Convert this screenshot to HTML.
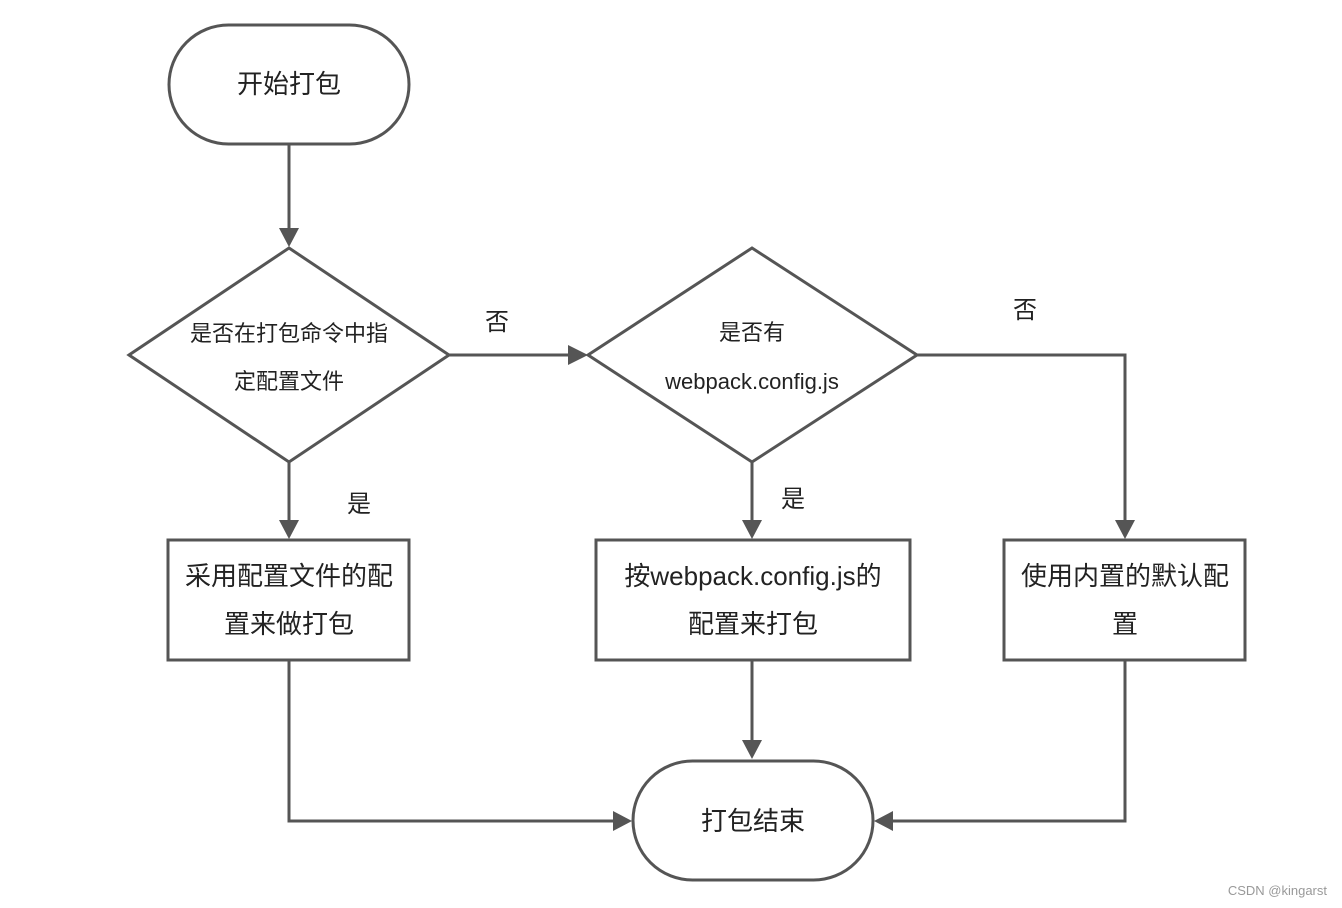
<!DOCTYPE html>
<html><head><meta charset="utf-8"><style>
html,body{margin:0;padding:0;background:#fff;}
svg{display:block;}
text{font-family:"Liberation Sans","Noto Sans CJK SC",sans-serif;fill:#222;}
</style></head><body>
<svg width="1342" height="908" viewBox="0 0 1342 908" xmlns="http://www.w3.org/2000/svg">
<defs>
<marker id="a" markerWidth="10" markerHeight="10" refX="9" refY="5" orient="auto" markerUnits="userSpaceOnUse" viewBox="0 0 10 10">
</marker>
</defs>
<g fill="none" stroke="#555" stroke-width="3">
<rect x="169" y="25" width="240" height="119" rx="59.5"/>
<polygon points="289,248 449,355 289,462 129,355"/>
<polygon points="752,248 917,355 752,462 588,355"/>
<rect x="168" y="540" width="241" height="120"/>
<rect x="596" y="540" width="314" height="120"/>
<rect x="1004" y="540" width="241" height="120"/>
<rect x="633" y="761" width="240" height="119" rx="59.5"/>
<line x1="289" y1="144" x2="289" y2="230"/>
<line x1="449" y1="355" x2="570" y2="355"/>
<polyline points="917,355 1125,355 1125,522"/>
<line x1="289" y1="462" x2="289" y2="522"/>
<line x1="752" y1="462" x2="752" y2="522"/>
<line x1="752" y1="660" x2="752" y2="742"/>
<polyline points="289,660 289,821 615,821"/>
<polyline points="1125,660 1125,821 891,821"/>
</g>
<g fill="#555">
<polygon points="279,228 299,228 289,247"/>
<polygon points="568,345 568,365 588,355"/>
<polygon points="1115,520 1135,520 1125,539"/>
<polygon points="279,520 299,520 289,539"/>
<polygon points="742,520 762,520 752,539"/>
<polygon points="742,740 762,740 752,759"/>
<polygon points="613,811 613,831 632,821"/>
<polygon points="893,811 893,831 874,821"/>
</g>
<g text-anchor="middle">
<text x="289" y="93" font-size="26">开始打包</text>
<text x="289" y="341" font-size="22">是否在打包命令中指</text>
<text x="289" y="389" font-size="22">定配置文件</text>
<text x="752" y="340" font-size="22">是否有</text>
<text x="752" y="389" font-size="22">webpack.config.js</text>
<text x="497" y="330" font-size="24">否</text>
<text x="1025" y="318" font-size="24">否</text>
<text x="359" y="512" font-size="24">是</text>
<text x="793" y="507" font-size="24">是</text>
<text x="289" y="585" font-size="26">采用配置文件的配</text>
<text x="289" y="633" font-size="26">置来做打包</text>
<text x="753" y="585" font-size="26">按webpack.config.js的</text>
<text x="753" y="633" font-size="26">配置来打包</text>
<text x="1125" y="585" font-size="26">使用内置的默认配</text>
<text x="1125" y="633" font-size="26">置</text>
<text x="753" y="830" font-size="26">打包结束</text>
</g>
<text x="1327" y="895" font-size="13" text-anchor="end" style="fill:#999">CSDN @kingarst</text>
</svg>
</body></html>
